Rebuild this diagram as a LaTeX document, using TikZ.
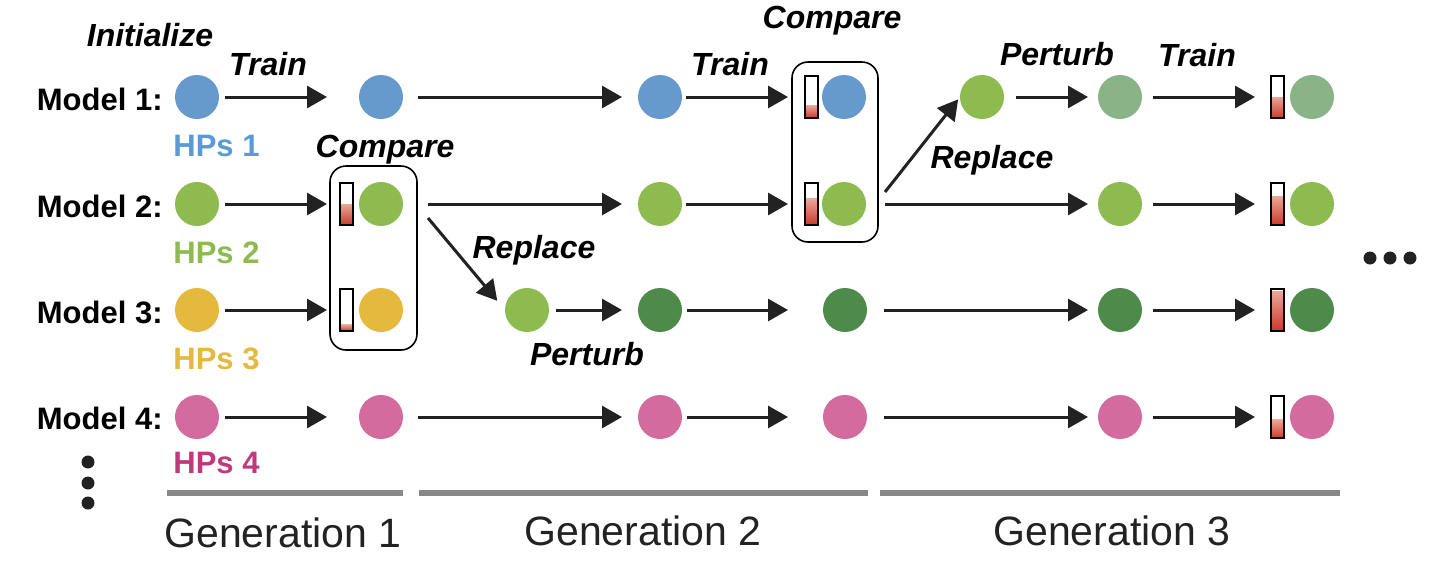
\documentclass[tikz,border=0pt]{standalone}
\usepackage{fontspec}
\setmainfont{Liberation Sans}
\usetikzlibrary{arrows.meta,calc}
\definecolor{ink}{HTML}{222222}
\definecolor{cblue}{HTML}{6699CC}
\definecolor{tblue}{HTML}{5B9BD5}
\definecolor{cgreen}{HTML}{8DBB50}
\definecolor{cyellow}{HTML}{E5B93E}
\definecolor{cpink}{HTML}{D36B9F}
\definecolor{tpink}{HTML}{C1397B}
\definecolor{cdark}{HTML}{4E8A4A}
\definecolor{cgrey}{HTML}{8AB387}
\definecolor{gline}{HTML}{888888}
\definecolor{barlight}{HTML}{EBA697}
\definecolor{bardark}{HTML}{C83A2B}
\newcommand{\levelbar}[3]{%
  \node[barbox] (#1) at (#2) {};
  \shade[top color=barlight, bottom color=bardark] (#1.south west) rectangle ($(#1.south east)+(0pt,{#3*21pt})$);
  \draw[barline] (#1.south west) rectangle (#1.north east);
}
\begin{document}
\begin{tikzpicture}[x=0.5pt,y=-0.5pt,
  ball/.style={circle, minimum size=22pt, inner sep=0pt, outer sep=0pt, fill=#1},
  barbox/.style={rectangle, minimum width=6.5pt, minimum height=21pt, inner sep=0pt, outer sep=0pt},
  barline/.style={draw=black, line width=0.8pt},
  arr/.style={draw=ink, line width=1.5pt, -{Triangle[length=10pt,width=11pt]}},
  sh/.style 2 args={shorten <=#1, shorten >=#2},
  modellbl/.style={font=\bfseries\fontsize{15.5}{18}\selectfont, anchor=base east, inner sep=0pt},
  hplbl/.style={font=\bfseries\fontsize{15.5}{18}\selectfont, anchor=base west, inner sep=0pt, text=#1},
  act/.style={font=\bfseries\itshape\fontsize{16}{19}\selectfont, anchor=base, inner sep=0pt},
  genlbl/.style={font=\fontsize{20.5}{24}\selectfont, anchor=base, inner sep=0pt, text=ink},
  genline/.style={draw=gline, line width=2.6pt},
  cmpbox/.style={rectangle, draw=black, line width=0.8pt, rounded corners=8pt, inner sep=0pt},
  moredot/.style={circle, fill=ink, inner sep=0pt, minimum size=6.5pt},
]
\useasboundingbox (0,0) rectangle (1447,575);

% compare boxes
\node[cmpbox, minimum width=43.5pt, minimum height=92pt] (box1) at (373.5,258) {};
\node[cmpbox, minimum width=43pt, minimum height=90pt] (box2) at (835,152) {};

% row labels
\node[modellbl] (m1) at (163,110) {Model 1:};
\node[modellbl] (m2) at (163,217) {Model 2:};
\node[modellbl] (m3) at (163,323) {Model 3:};
\node[modellbl] (m4) at (163,429) {Model 4:};
\node[hplbl=tblue] (h1) at (173,156) {HPs 1};
\node[hplbl=cgreen] (h2) at (173,263) {HPs 2};
\node[hplbl=cyellow] (h3) at (173,369) {HPs 3};
\node[hplbl=tpink] (h4) at (173,473) {HPs 4};

% row 1
\node[ball=cblue] (a1) at (197,97) {};
\node[ball=cblue] (b1) at (381,97) {};
\node[ball=cblue] (c1) at (660,97) {};
\levelbar{r1}{811.5,97}{0.3}
\node[ball=cblue] (d1) at (844,97) {};
\node[ball=cgreen] (e1) at (982,97) {};
\node[ball=cgrey] (f1) at (1120,97) {};
\levelbar{q1}{1277.5,97}{0.5}
\node[ball=cgrey] (g1) at (1312,97) {};

% row 2
\node[ball=cgreen] (a2) at (197,204) {};
\levelbar{p2}{346.5,204}{0.5}
\node[ball=cgreen] (b2) at (381,204) {};
\node[ball=cgreen] (c2) at (660,204) {};
\levelbar{r2}{811.5,204}{0.62}
\node[ball=cgreen] (d2) at (844,204) {};
\node[ball=cgreen] (f2) at (1120,204) {};
\levelbar{q2}{1277.5,204}{0.67}
\node[ball=cgreen] (g2) at (1312,204) {};

% row 3
\node[ball=cyellow] (a3) at (197,310) {};
\levelbar{p3}{346.5,310}{0.15}
\node[ball=cyellow] (b3) at (381,310) {};
\node[ball=cgreen] (c3p) at (527,310) {};
\node[ball=cdark] (c3) at (660,310) {};
\node[ball=cdark] (d3) at (845,310) {};
\node[ball=cdark] (f3) at (1120,310) {};
\levelbar{q3}{1277.5,310}{0.95}
\node[ball=cdark] (g3) at (1312,310) {};

% row 4
\node[ball=cpink] (a4) at (197,417) {};
\node[ball=cpink] (b4) at (381,417) {};
\node[ball=cpink] (c4) at (660,417) {};
\node[ball=cpink] (d4) at (845,417) {};
\node[ball=cpink] (f4) at (1120,417) {};
\levelbar{q4}{1277.5,417}{0.43}
\node[ball=cpink] (g4) at (1312,417) {};

% connectors row 1
\draw[arr, sh={3pt}{16pt}] (a1) -- (b1);
\draw[arr, sh={7.5pt}{8pt}] (b1) -- (c1);
\draw[arr, sh={2pt}{8.5pt}] (c1) -- (r1);
\draw[arr, sh={6pt}{5pt}] (e1) -- (f1);
\draw[arr, sh={5.5pt}{8pt}] (f1) -- (q1);
% row 2
\draw[arr, sh={3pt}{6.5pt}] (a2) -- (p2);
\draw[arr, sh={12.5pt}{8pt}] (b2) -- (c2);
\draw[arr, sh={2pt}{8.5pt}] (c2) -- (r2);
\draw[arr, sh={9.5pt}{5pt}] (d2) -- (f2);
\draw[arr, sh={5.5pt}{8pt}] (f2) -- (q2);
% row 3
\draw[arr, sh={3pt}{6.5pt}] (a3) -- (p3);
\draw[arr, sh={3.5pt}{8pt}] (c3p) -- (c3);
\draw[arr, sh={2.5pt}{17.5pt}] (c3) -- (d3);
\draw[arr, sh={8.5pt}{5pt}] (d3) -- (f3);
\draw[arr, sh={5.5pt}{8pt}] (f3) -- (q3);
% row 4
\draw[arr, sh={3pt}{16pt}] (a4) -- (b4);
\draw[arr, sh={7.5pt}{8pt}] (b4) -- (c4);
\draw[arr, sh={2.5pt}{17.5pt}] (c4) -- (d4);
\draw[arr, sh={8.5pt}{5pt}] (d4) -- (f4);
\draw[arr, sh={5.5pt}{8pt}] (f4) -- (q4);
% replace arrows
\coordinate (rep1s) at (428,218);
\coordinate (rep2s) at (885,192);
\draw[arr, sh={0pt}{6pt}] (rep1s) -- (c3p.west);
\draw[arr, sh={0pt}{1.5pt}] (rep2s) -- (e1.west);

% action labels
\node[act] (lInit) at (150,46) {Initialize};
\node[act] (lTr1) at (268,75) {Train};
\node[act] (lCmp1) at (385,157) {Compare};
\node[act] (lTr2) at (730,75) {Train};
\node[act] (lCmp2) at (832,28) {Compare};
\node[act] (lPt2) at (1057,65) {Perturb};
\node[act] (lTr3) at (1197,66) {Train};
\node[act] (lRp2) at (992,168) {Replace};
\node[act] (lRp1) at (534,258) {Replace};
\node[act] (lPt1) at (587,365) {Perturb};

% more models / generations
\node[moredot] (vd1) at (88,462) {};
\node[moredot] (vd2) at (88,483) {};
\node[moredot] (vd3) at (88,503) {};
\node[moredot] (hd1) at (1370,258) {};
\node[moredot] (hd2) at (1390,258) {};
\node[moredot] (hd3) at (1410,258) {};

\coordinate (g1s) at (167,493); \coordinate (g1e) at (403,493);
\coordinate (g2s) at (419,493); \coordinate (g2e) at (868,493);
\coordinate (g3s) at (880,493); \coordinate (g3e) at (1340,493);
\draw[genline] (g1s) -- (g1e);
\draw[genline] (g2s) -- (g2e);
\draw[genline] (g3s) -- (g3e);
\node[genlbl] (gen1) at (283,547) {Generation 1};
\node[genlbl] (gen2) at (643,545) {Generation 2};
\node[genlbl] (gen3) at (1112,545) {Generation 3};
\end{tikzpicture}
\end{document}
